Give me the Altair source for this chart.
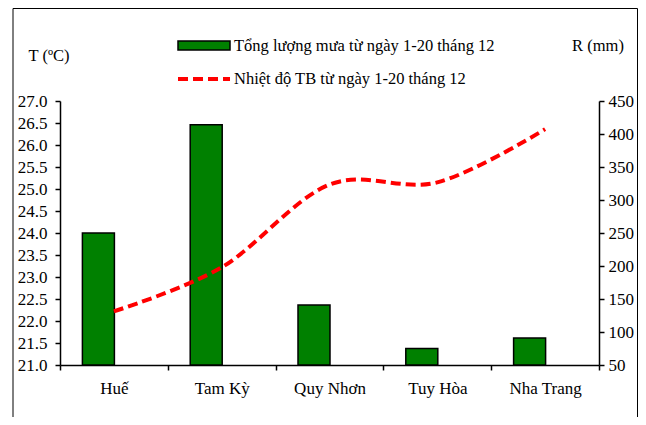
import altair as alt
import pandas as pd

stations = ["Huế", "Tam Kỳ", "Quy Nhơn", "Tuy Hòa", "Nha Trang"]
rain_mm = [250, 414, 141, 75, 91]
temp_c = [22.22, 23.22, 25.1, 25.15, 26.36]

rain_label = "Tổng lượng mưa từ ngày 1-20 tháng 12"
temp_label = "Nhiệt độ TB từ ngày 1-20 tháng 12"

df = pd.DataFrame({"station": stations, "rain": rain_mm, "temp": temp_c})

FONT = "'Liberation Serif', 'Times New Roman', serif"
W, H = 539, 264
TICK_FS = 17
LEG_FS = 16.5

x_enc = alt.X(
    "station:N",
    sort=stations,
    scale=alt.Scale(paddingInner=0, paddingOuter=0),
    axis=alt.Axis(
        title=None, labelAngle=0, tickBand="extent", tickSize=5,
        labelPadding=10, domainColor="black", tickColor="black",
        domainWidth=1.5, tickWidth=1.5, labelFont=FONT, labelFontSize=TICK_FS,
        labelColor="black",
    ),
)

bars = alt.Chart(df).mark_bar(
    width=32, xOffset=-15.5, fill="#008000", stroke="black", strokeWidth=1.5
).encode(
    x=x_enc,
    y=alt.Y(
        "rain:Q",
        scale=alt.Scale(domain=[50, 450], nice=False, zero=False),
        axis=alt.Axis(
            orient="right", values=list(range(50, 451, 50)), title="R (mm)",
            titleAngle=0, titleX=-1.5, titleY=-56, titleAlign="center",
            titleBaseline="middle", titleFont=FONT, titleFontSize=16.5,
            titleFontWeight="normal", titleColor="black",
            tickSize=5, labelPadding=4, domainColor="black", tickColor="black",
            domainWidth=1.5, tickWidth=1.5, labelFont=FONT, labelFontSize=TICK_FS,
            labelColor="black", grid=False,
        ),
    ),
    y2=alt.Y2(datum=50),
)

line = alt.Chart(df).mark_line(
    color="#FF0000", strokeWidth=4, strokeDash=[10, 5], interpolate="cardinal"
).encode(
    x=alt.X("station:N", sort=stations),
    y=alt.Y(
        "temp:Q",
        scale=alt.Scale(domain=[21, 27], nice=False, zero=False),
        axis=alt.Axis(
            orient="left", values=[21 + 0.5 * i for i in range(13)], format=".1f",
            title="T (ºC)", titleAngle=0, titleX=-11.5, titleY=-46,
            titleAlign="center", titleBaseline="middle", titleFont=FONT,
            titleFontSize=16.5, titleFontWeight="normal", titleColor="black",
            tickSize=5, labelPadding=8, domainColor="black", tickColor="black",
            domainWidth=1.5, tickWidth=1.5, labelFont=FONT, labelFontSize=TICK_FS,
            labelColor="black", grid=False,
        ),
    ),
)

one = alt.Data(values=[{"k": 1}])

frame = alt.Chart(one).mark_rect(fill="transparent", stroke="black", strokeWidth=1).encode(
    x=alt.value(-47), x2=alt.value(577.5), y=alt.value(-92.5), y2=alt.value(340)
)

leg_rect = alt.Chart(one).mark_rect(fill="#008000", stroke="black", strokeWidth=1.5).encode(
    x=alt.value(118), x2=alt.value(170), y=alt.value(-60), y2=alt.value(-51)
)
leg_rect_text = alt.Chart(one).mark_text(
    align="left", baseline="middle", font=FONT, fontSize=LEG_FS, color="black"
).encode(x=alt.value(174), y=alt.value(-55), text=alt.value(rain_label))

leg_line = alt.Chart(one).mark_rule(
    color="#FF0000", strokeWidth=4, strokeDash=[10, 5]
).encode(x=alt.value(118), x2=alt.value(170), y=alt.value(-22))
leg_line_text = alt.Chart(one).mark_text(
    align="left", baseline="middle", font=FONT, fontSize=LEG_FS, color="black"
).encode(x=alt.value(174), y=alt.value(-22), text=alt.value(temp_label))

chart = alt.layer(
    frame, bars, line, leg_rect, leg_rect_text, leg_line, leg_line_text
).resolve_scale(y="independent").properties(
    width=W, height=H,
    autosize=alt.AutoSizeParams(type="none"),
    padding={"left": 52, "top": 93, "right": 39, "bottom": 52},
    background="white",
).configure_view(stroke=None)

chart.save("out.html", embed_options={"renderer": "svg", "actions": False})
